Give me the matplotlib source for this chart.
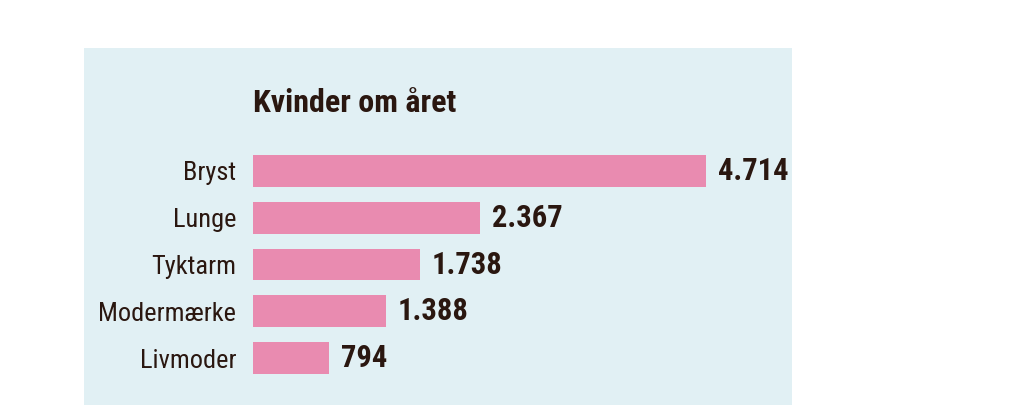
import matplotlib
matplotlib.use("Agg")
import matplotlib.pyplot as plt

categories = ["Bryst", "Lunge", "Tyktarm", "Modermærke", "Livmoder"]
values = [4714, 2367, 1738, 1388, 794]
labels = ["4.714", "2.367", "1.738", "1.388", "794"]
title = "Kvinder om året"

fam = ["Liberation Sans Narrow", "Roboto Condensed", "DejaVu Sans"]
txt = "#2a1710"
fig = plt.figure(figsize=(10.27, 4.19), dpi=100)
bg = fig.add_axes([84/1027, 14/419, 708/1027, 357/419], zorder=-1)
bg.set_facecolor("#e1f0f4")
bg.set_xticks([]); bg.set_yticks([])
for s in bg.spines.values():
    s.set_visible(False)
ax = fig.add_axes([253/1027, 37.5/419, 528.5/1027, 234/419], zorder=1)
ax.set_facecolor("none")
y = list(range(len(categories)))
ax.barh(y, values, height=0.68, color="#e98bb0")
ax.set_xlim(0, 5500)
ax.set_ylim(4.5, -0.5)
ax.set_yticks(y)
ax.set_yticklabels(categories, fontsize=19, color=txt, family=fam)
ax.tick_params(axis="y", length=0, pad=12)
ax.set_xticks([])
for s in ax.spines.values():
    s.set_visible(False)
for yi, v, l in zip(y, values, labels):
    ax.text(v + 120, yi, l, va="center", ha="left", fontsize=22,
            fontweight="bold", color=txt, family=fam)
fig.text(253/1027, 316/419, title, fontsize=23, fontweight="bold",
         color=txt, family=fam, va="center", ha="left")
fig.savefig("out.png", dpi=100)
